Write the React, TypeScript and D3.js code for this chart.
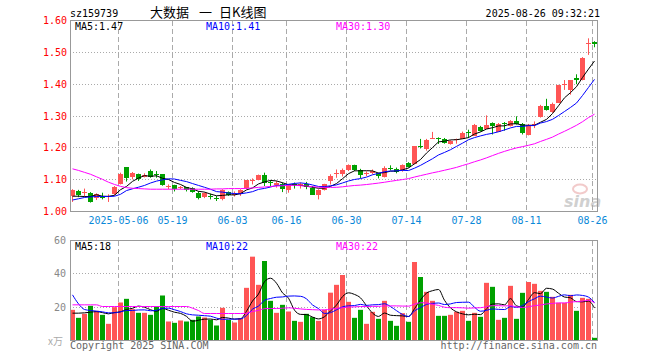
import React from "react";
import * as d3 from "d3";

// ---- data ----
const opens = [
  1.047, 1.064, 1.058, 1.059, 1.041, 1.047, 1.046, 1.054, 1.087, 1.139,
  1.111, 1.117, 1.110, 1.127, 1.117, 1.117, 1.078, 1.083, 1.073, 1.077,
  1.073, 1.059, 1.044, 1.049, 1.042, 1.038, 1.061, 1.052, 1.054, 1.072,
  1.094, 1.099, 1.114, 1.093, 1.084, 1.085, 1.067, 1.086, 1.080, 1.085,
  1.075, 1.051, 1.067, 1.096, 1.116, 1.117, 1.129, 1.145, 1.130, 1.119,
  1.120, 1.120, 1.109, 1.138, 1.134, 1.129, 1.151, 1.150, 1.205, 1.197,
  1.230, 1.232, 1.228, 1.212, 1.225, 1.229, 1.251, 1.239, 1.267, 1.262,
  1.277, 1.252, 1.277, 1.268, 1.285, 1.275, 1.242, 1.273, 1.296, 1.332,
  1.312, 1.341, 1.398, 1.382, 1.419, 1.413, 1.526, 1.533,
];
const highs = [
  1.070, 1.068, 1.072, 1.061, 1.057, 1.059, 1.054, 1.080, 1.122, 1.139,
  1.124, 1.119, 1.120, 1.132, 1.127, 1.117, 1.085, 1.084, 1.080, 1.077,
  1.076, 1.064, 1.060, 1.056, 1.049, 1.070, 1.063, 1.063, 1.070, 1.099,
  1.104, 1.116, 1.122, 1.099, 1.096, 1.091, 1.085, 1.091, 1.091, 1.093,
  1.080, 1.070, 1.087, 1.117, 1.132, 1.135, 1.148, 1.147, 1.134, 1.126,
  1.132, 1.122, 1.142, 1.145, 1.138, 1.148, 1.155, 1.205, 1.228, 1.228,
  1.250, 1.233, 1.231, 1.224, 1.229, 1.251, 1.257, 1.275, 1.269, 1.302,
  1.280, 1.278, 1.281, 1.287, 1.299, 1.278, 1.275, 1.283, 1.335, 1.354,
  1.342, 1.398, 1.413, 1.413, 1.431, 1.485, 1.544, 1.535,
];
const lows = [
  1.030, 1.045, 1.047, 1.028, 1.036, 1.038, 1.030, 1.051, 1.085, 1.094,
  1.101, 1.096, 1.107, 1.106, 1.106, 1.081, 1.070, 1.063, 1.070, 1.063,
  1.059, 1.038, 1.042, 1.038, 1.033, 1.035, 1.049, 1.047, 1.049, 1.070,
  1.085, 1.098, 1.080, 1.078, 1.075, 1.061, 1.059, 1.072, 1.072, 1.070,
  1.054, 1.038, 1.066, 1.085, 1.106, 1.110, 1.127, 1.127, 1.104, 1.111,
  1.117, 1.104, 1.107, 1.129, 1.120, 1.125, 1.138, 1.148, 1.198, 1.191,
  1.228, 1.212, 1.213, 1.210, 1.213, 1.228, 1.231, 1.238, 1.251, 1.260,
  1.242, 1.250, 1.254, 1.267, 1.273, 1.242, 1.239, 1.262, 1.295, 1.317,
  1.310, 1.341, 1.382, 1.367, 1.400, 1.412, 1.492, 1.516,
];
const closes = [
  1.067, 1.051, 1.060, 1.032, 1.054, 1.043, 1.049, 1.077, 1.119, 1.106,
  1.122, 1.101, 1.116, 1.108, 1.114, 1.083, 1.081, 1.070, 1.077, 1.067,
  1.061, 1.042, 1.058, 1.046, 1.040, 1.067, 1.051, 1.056, 1.067, 1.098,
  1.098, 1.114, 1.088, 1.090, 1.090, 1.070, 1.083, 1.083, 1.085, 1.076,
  1.054, 1.067, 1.085, 1.113, 1.120, 1.130, 1.146, 1.130, 1.113, 1.122,
  1.127, 1.111, 1.138, 1.135, 1.124, 1.146, 1.140, 1.205, 1.201, 1.226,
  1.232, 1.229, 1.217, 1.221, 1.228, 1.247, 1.248, 1.273, 1.254, 1.273,
  1.268, 1.276, 1.274, 1.285, 1.275, 1.247, 1.273, 1.275, 1.332, 1.320,
  1.338, 1.396, 1.400, 1.413, 1.413, 1.483, 1.528, 1.527,
];
const volumes = [
  18.4, 13.6, 16.0, 20.8, 17.8, 15.4, 10.0, 20.0, 22.8, 25.0,
  18.8, 16.6, 16.6, 15.4, 20.4, 27.0, 11.4, 10.6, 12.0, 11.4,
  12.4, 14.4, 13.8, 12.4, 9.0, 19.6, 12.4, 10.8, 13.4, 31.6,
  50.3, 33.4, 47.7, 23.8, 16.6, 21.4, 17.4, 11.8, 11.2, 16.0,
  14.0, 11.8, 18.4, 28.7, 33.4, 39.3, 23.2, 13.6, 18.4, 10.0,
  17.2, 13.0, 23.8, 11.8, 8.8, 16.4, 11.2, 47.1, 38.1, 29.2,
  23.8, 14.8, 14.8, 15.4, 17.2, 17.8, 11.8, 16.6, 14.2, 34.6,
  32.2, 12.4, 13.6, 32.8, 13.0, 28.6, 35.1, 34.0, 29.8, 29.2,
  26.2, 22.6, 22.6, 27.4, 17.8, 25.6, 25.0, 1.6,
];

// moving-average values at the left edge (window reaches before the chart)
const ma5Head = [1.048, 1.048, 1.047, 1.047];
const ma10Head = [1.036, 1.040, 1.044, 1.046, 1.047, 1.047, 1.047, 1.048, 1.054];
const ma30Head = [
  1.134, 1.129, 1.123, 1.117, 1.109, 1.101, 1.092, 1.085, 1.079, 1.075,
  1.073, 1.072, 1.071, 1.070, 1.070, 1.070, 1.070, 1.070, 1.070, 1.070,
  1.070, 1.070, 1.070, 1.070, 1.071, 1.071, 1.072, 1.072, 1.072,
];
const volMa5Head = [16.4, 16.4, 16.6, 17.0];
const volMa10Head = [27.4, 22.0, 18.6, 18.0, 17.6, 17.2, 16.6, 16.6, 17.2];
const volMa30Head = [
  21.4, 21.4, 21.4, 21.4, 21.4, 20.4, 20.4, 20.4, 20.4, 20.4,
  20.4, 20.4, 20.4, 20.4, 20.4, 20.4, 20.4, 20.4, 20.4, 20.4,
  19.4, 18.0, 16.2, 16.2, 16.2, 16.2, 16.2, 16.2, 16.2,
];

const tickIndex = [8, 17, 27, 36, 46, 56, 66, 76, 87];
const tickLabels = ["2025-05-06", "05-19", "06-03", "06-16", "06-30", "07-14", "07-28", "08-11", "08-26"];
const priceTicks = [1.0, 1.1, 1.2, 1.3, 1.4, 1.5, 1.6];
const volTicks = [20, 40, 60];
const priceMaLabels = ["MA5:1.47", "MA10:1.41", "MA30:1.30"];
const volMaLabels = ["MA5:18", "MA10:22", "MA30:22"];
const maColors = ["#000000", "#0000ff", "#ff00ff"];

const RED = "#ff5555";
const GREEN = "#00a000";
const MONO = "'DejaVu Sans Mono', monospace";

function movingAvg(vals: number[], n: number, head: number[]): number[] {
  return vals.map((_, i) => (i < n - 1 ? head[i] : d3.mean(vals.slice(i - n + 1, i + 1)) as number));
}

export default function App() {
  const W = 660, H = 360;
  const left = 70, right = 597.5;
  const idx = d3.range(closes.length);
  const x = d3.scaleBand<number>().domain(idx).range([69.5, 597.5]).paddingInner(1 / 6).paddingOuter(1 / 12);
  const bw = x.bandwidth();
  const cx = (i: number) => (x(i) as number) + bw / 2;

  const y = d3.scaleLinear().domain([1.0, 1.6]).range([211.5, 20.5]);
  const yv = d3.scaleLinear().domain([0, 60]).range([340.5, 240.5]);

  const priceMAs = [movingAvg(closes, 5, ma5Head), movingAvg(closes, 10, ma10Head), movingAvg(closes, 30, ma30Head)];
  const volMAs = [movingAvg(volumes, 5, volMa5Head), movingAvg(volumes, 10, volMa10Head), movingAvg(volumes, 30, volMa30Head)];

  const priceLine = d3.line<number>().x((_, i) => cx(i)).y((v) => y(v));
  const volLine = d3.line<number>().x((_, i) => cx(i)).y((v) => yv(v)).curve(d3.curveMonotoneX);

  const up = (i: number) => closes[i] >= opens[i];
  const crisp = (v: number) => Math.round(v - 0.5) + 0.5;

  const maLabelX = [75, 206, 336];

  return (
    <svg width={W} height={H} style={{ position: "fixed", left: 0, top: 0, background: "#fff" }} fontFamily={MONO}>
      <rect x={0} y={0} width={W} height={H} fill="#fff" />
      {/* header */}
      <text x={70} y={17} fontSize={10} fill="#000">sz159739</text>
      <text y={17} fontSize={13} fill="#000" fontFamily="'Noto Sans CJK SC', sans-serif">
        <tspan x={150}>大数据</tspan>
        <tspan x={199}>一</tspan>
        <tspan x={219}>日K线图</tspan>
      </text>
      <text x={600} y={17} fontSize={10} fill="#000" textAnchor="end">2025-08-26 09:32:21</text>

      {/* ---------- price panel ---------- */}
      {priceTicks.slice(1, -1).map((t) => (
        <line key={"pg" + t} x1={left} x2={right} y1={crisp(y(t))} y2={crisp(y(t))} stroke="#aaa" strokeDasharray="1,2" />
      ))}
      {tickIndex.map((ti) => (
        <line key={"pv" + ti} x1={(x(ti) as number) + 0.5} x2={(x(ti) as number) + 0.5} y1={21} y2={211} stroke="#aaa" strokeDasharray="5,3" />
      ))}
      {priceTicks.map((t) => (
        <text key={"pl" + t} x={67} y={y(t) + 3.5} fontSize={10} fill="#ff0000" textAnchor="end">
          {d3.format(".2f")(t)}
        </text>
      ))}
      {tickIndex.map((ti, k) => (
        <text key={"dl" + ti} x={(x(ti) as number) + 0.5} y={224} fontSize={10} fill="#0a88d8" textAnchor="middle">
          {tickLabels[k]}
        </text>
      ))}

      {/* sina watermark */}
      <g opacity={0.55}>
        <ellipse cx={580} cy={189} rx={7} ry={4.5} fill="none" stroke="#e8a0a0" strokeWidth={2} />
        <text x={564} y={207} fontSize={16} fontWeight="bold" fontStyle="italic" fill="#aaa" fontFamily="'DejaVu Sans', sans-serif">sina</text>
      </g>

      {/* candles */}
      {idx.map((i) => {
        const col = up(i) ? RED : GREEN;
        const yTop = y(Math.max(opens[i], closes[i]));
        const yBot = y(Math.min(opens[i], closes[i]));
        const h = Math.max(1, Math.round(yBot - yTop));
        return (
          <g key={"c" + i}>
            <line x1={cx(i)} x2={cx(i)} y1={y(highs[i])} y2={y(lows[i])} stroke={col} strokeWidth={1} />
            <rect x={x(i)} y={Math.round(yTop)} width={bw} height={h} fill={col} />
          </g>
        );
      })}
      {priceMAs.map((m, k) => (
        <path key={"pm" + k} d={priceLine(m) as string} fill="none" stroke={maColors[k]} strokeWidth={1} />
      ))}
      {priceMaLabels.map((s, k) => (
        <text key={"pml" + k} x={maLabelX[k]} y={30} fontSize={10} fill={maColors[k]}>{s}</text>
      ))}
      <rect x={70.5} y={20.5} width={527} height={191} fill="none" stroke="#999" />

      {/* ---------- volume panel ---------- */}
      {volTicks.slice(0, -1).map((t) => (
        <line key={"vg" + t} x1={left} x2={right} y1={crisp(yv(t))} y2={crisp(yv(t))} stroke="#aaa" strokeDasharray="1,2" />
      ))}
      {tickIndex.map((ti) => (
        <line key={"vv" + ti} x1={(x(ti) as number) + 0.5} x2={(x(ti) as number) + 0.5} y1={241} y2={340} stroke="#aaa" strokeDasharray="5,3" />
      ))}
      {volTicks.map((t) => (
        <text key={"vl" + t} x={66} y={yv(t) + 3.5} fontSize={10} fill="#888" textAnchor="end">{t}</text>
      ))}
      <text x={63} y={345} fontSize={10} fill="#aaa" textAnchor="end" fontFamily="'Noto Sans CJK SC', sans-serif">x万</text>
      {idx.map((i) => (
        <rect key={"v" + i} x={x(i)} y={yv(volumes[i])} width={bw} height={340.5 - yv(volumes[i])} fill={up(i) ? RED : GREEN} />
      ))}
      {volMAs.map((m, k) => (
        <path key={"vm" + k} d={volLine(m) as string} fill="none" stroke={maColors[k]} strokeWidth={1} />
      ))}
      {volMaLabels.map((s, k) => (
        <text key={"vml" + k} x={maLabelX[k]} y={250} fontSize={10} fill={maColors[k]}>{s}</text>
      ))}
      <rect x={70.5} y={240.5} width={527} height={100} fill="none" stroke="#999" />

      {/* footer */}
      <text x={70} y={349} fontSize={10} fill="#666">Copyright 2025 SINA.COM</text>
      <text x={597} y={349} fontSize={10} fill="#666" textAnchor="end">http://finance.sina.com.cn</text>
    </svg>
  );
}
